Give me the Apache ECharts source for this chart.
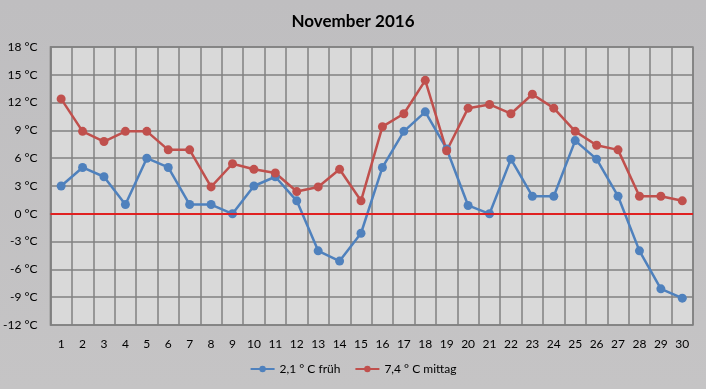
<!DOCTYPE html>
<html><head><meta charset="utf-8">
<script src="https://cdn.jsdelivr.net/npm/echarts@6/dist/echarts.min.js"></script>
<style>html,body{margin:0;padding:0;background:#c2c1c2;}#c{width:706px;height:389px;}</style>
</head><body><div id="c"></div>
<script>
var days = ['1','2','3','4','5','6','7','8','9','10','11','12','13','14','15','16','17','18','19','20','21','22','23','24','25','26','27','28','29','30'];
var frueh = [3,5,4,1,6,5,1,1,0,3,4,1.4,-4,-5.1,-2.1,5,8.9,11,7,0.9,0,5.9,1.9,1.9,7.9,5.9,1.9,-4,-8.1,-9.1];
var mittag = [12.4,8.9,7.8,8.9,8.9,6.9,6.9,2.9,5.4,4.8,4.4,2.4,2.9,4.8,1.4,9.4,10.8,14.4,6.8,11.4,11.8,10.8,12.9,11.4,8.9,7.4,6.9,1.9,1.9,1.4];
var seriesNames = ['2,1 ° C früh','7,4 ° C mittag'];
var chart = echarts.init(document.getElementById('c'));
chart.setOption({
  backgroundColor: {type:'linear',x:0,y:0,x2:0,y2:1,colorStops:[{offset:0,color:'#bfbec0'},{offset:1,color:'#c5c4c5'}]},
  title: {text:'November 2016', left:'center', top:8, textStyle:{fontFamily:'Lato',fontSize:17,fontWeight:'bold',color:'#000'}},
  legend: {bottom:9, left:'center', itemWidth:24, itemHeight:8, itemGap:14,
    textStyle:{fontFamily:'Lato',fontSize:12,color:'#000'}, data:seriesNames},
  grid: {left:50, right:13, top:47, bottom:64, show:true, backgroundColor:'#d9d9d9', borderColor:'#808080', borderWidth:1.5},
  xAxis: {type:'category', data:days, boundaryGap:true,
    axisLine:{lineStyle:{color:'#808080',width:1.5}}, axisTick:{show:false},
    splitLine:{show:true, lineStyle:{color:'#808080',width:1.5}},
    axisLabel:{fontFamily:'Lato',fontSize:12,color:'#000',margin:13}},
  yAxis: {type:'value', min:-12, max:18, interval:3,
    axisLine:{show:true,lineStyle:{color:'#808080',width:1.5}}, axisTick:{show:false},
    splitLine:{lineStyle:{color:'#808080',width:1.5}},
    axisLabel:{formatter:'{value} °C', fontFamily:'Lato',fontSize:12,color:'#000',margin:13}},
  series: [
    {name:seriesNames[0], type:'line', data:frueh, symbol:'circle', symbolSize:9,
      lineStyle:{color:'#4f81bd',width:2.5}, itemStyle:{color:'#4f81bd'},
      markLine:{silent:true, symbol:'none', label:{show:false}, lineStyle:{color:'#ff0000',width:1.5,type:'solid'}, data:[{yAxis:0}]}},
    {name:seriesNames[1], type:'line', data:mittag, symbol:'circle', symbolSize:9,
      lineStyle:{color:'#c0504d',width:2.5}, itemStyle:{color:'#c0504d'}}
  ],
  animation:false
});
</script></body></html>
